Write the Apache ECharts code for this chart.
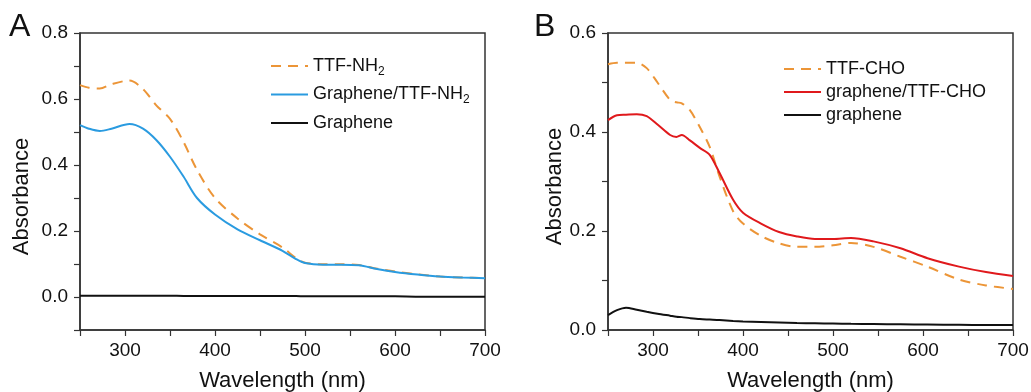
<!DOCTYPE html>
<html><head><meta charset="utf-8">
<script src="https://cdn.jsdelivr.net/npm/echarts@6/dist/echarts.min.js"></script>
<style>html,body{margin:0;padding:0;background:#fff}#c{width:1031px;height:392px}</style>
</head><body><div id="c"></div>
<script>
// Panel A
var wlA = [250,260,272,285,305,320,335,350,365,380,400,425,450,475,490,500,520,540,560,580,600,625,650,675,700];
var ttfNH2 = [0.642,0.634,0.632,0.645,0.656,0.630,0.580,0.540,0.470,0.385,0.300,0.238,0.190,0.150,0.118,0.104,0.099,0.099,0.097,0.086,0.077,0.069,0.062,0.059,0.057];
var grTTFNH2 = [0.521,0.510,0.503,0.510,0.524,0.510,0.475,0.425,0.365,0.300,0.250,0.205,0.172,0.140,0.115,0.103,0.098,0.098,0.096,0.085,0.076,0.068,0.062,0.059,0.057];
var grapheneA = [0.004,0.004,0.004,0.004,0.004,0.004,0.004,0.004,0.003,0.003,0.003,0.003,0.003,0.003,0.003,0.002,0.002,0.002,0.002,0.002,0.002,0.001,0.001,0.001,0.001];
// Panel B
var wlB = [250,260,270,282,293,305,319,326,332,341,352,363,374,389,400,420,440,460,480,500,520,545,575,605,640,670,700];
var ttfCHO = [0.537,0.540,0.540,0.540,0.529,0.500,0.465,0.460,0.458,0.444,0.410,0.370,0.310,0.240,0.215,0.190,0.175,0.168,0.168,0.171,0.176,0.168,0.148,0.128,0.102,0.090,0.083];
var grTTFCHO = [0.424,0.434,0.435,0.436,0.432,0.415,0.394,0.390,0.394,0.383,0.368,0.354,0.317,0.263,0.237,0.215,0.198,0.189,0.184,0.184,0.186,0.179,0.165,0.145,0.128,0.117,0.109];
var grapheneB = [0.030,0.040,0.045,0.041,0.037,0.033,0.029,0.027,0.026,0.024,0.022,0.021,0.020,0.018,0.017,0.016,0.015,0.014,0.0135,0.013,0.0125,0.012,0.0115,0.011,0.0105,0.010,0.010];
var xTicks = [300,400,500,600,700];
var yTicksA = [0.0,0.2,0.4,0.6,0.8];
var yTicksB = [0.0,0.2,0.4,0.6];

function pairs(x, y){ return x.map(function(v,i){ return [v, y[i]]; }); }
var FONT = 'Liberation Sans, Arial, sans-serif';
var AX = '#333';
function xAxis(idx){
  return {
    gridIndex: idx, type:'value', min:250, max:700, interval:50,
    axisLine:{onZero:false, lineStyle:{color:AX, width:1.5}},
    axisTick:{show:true, length:6, inside:false, lineStyle:{color:AX, width:1.2}},
    axisLabel:{color:'#111', fontSize:19, fontFamily:FONT, margin:11,
      formatter:function(v){ return xTicks.indexOf(v) >= 0 ? String(v) : ''; }},
    splitLine:{show:false},
    name:'Wavelength (nm)', nameLocation:'middle', nameGap:40,
    nameTextStyle:{color:'#111', fontSize:22, fontFamily:FONT}
  };
}
function yAxis(idx, min, max, ticks, gap, pad){
  return {
    gridIndex: idx, type:'value', min:min, max:max, interval:0.1,
    axisLine:{onZero:false, lineStyle:{color:AX, width:1.5}},
    axisTick:{show:true, length:6, inside:false, lineStyle:{color:AX, width:1.2}},
    axisLabel:{color:'#111', fontSize:19, fontFamily:FONT, margin:12,
      formatter:function(v){
        for (var i=0;i<ticks.length;i++){ if (Math.abs(ticks[i]-v) < 1e-6) return ticks[i].toFixed(1); }
        return '';
      }},
    splitLine:{show:false},
    name:'Absorbance', nameLocation:'middle', nameGap:gap, nameRotate:90,
    nameTextStyle:{color:'#111', fontSize:22, fontFamily:FONT, padding:[0,pad,0,0]}
  };
}
var ORANGE='#EC9537', BLUE='#2A9BE0', RED='#E0191C', BLACK='#111';
function ser(name, xi, data, color, dashed){
  return {
    name:name, type:'line', xAxisIndex:xi, yAxisIndex:xi, data:data,
    showSymbol:false, symbol:'none', smooth:0.3, animation:false,
    lineStyle:{color:color, width:2, type: dashed ? [10,7] : 'solid'},
    itemStyle:{color:color}
  };
}
var rich = {
  n:{fontSize:18, fontFamily:FONT, color:'#111'},
  s:{fontSize:12, fontFamily:FONT, color:'#111', padding:[11,0,0,0]}
};
function fmt(name){
  if (/NH2$/.test(name)) return '{n|' + name.slice(0,-1) + '}{s|2}';
  return '{n|' + name + '}';
}
var chart = echarts.init(document.getElementById('c'), null, {renderer:'canvas'});
chart.setOption({
  animation:false,
  backgroundColor:'#fff',
  grid:[
    {left:80, right:546, top:33, bottom:62, show:true, borderColor:AX, borderWidth:1.5, backgroundColor:'transparent', containLabel:false, outerBoundsMode:'none'},
    {left:608, right:18, top:33, bottom:62, show:true, borderColor:AX, borderWidth:1.5, backgroundColor:'transparent', containLabel:false, outerBoundsMode:'none'}
  ],
  xAxis:[xAxis(0), xAxis(1)],
  yAxis:[yAxis(0,-0.1,0.8,yTicksA,47,30), yAxis(1,0,0.6,yTicksB,42,10)],
  legend:[
    {data:['TTF-NH2','Graphene/TTF-NH2','Graphene'], orient:'vertical', left:265, top:52,
     itemWidth:37, itemHeight:10, itemGap:8, formatter:fmt,
     itemStyle:{opacity:0},
     textStyle:{fontSize:18, fontFamily:FONT, color:'#111', rich:rich}, selectedMode:false},
    {data:['TTF-CHO','graphene/TTF-CHO','graphene'], orient:'vertical', left:778, top:55,
     itemWidth:37, itemHeight:10, itemGap:5, formatter:fmt,
     itemStyle:{opacity:0},
     textStyle:{fontSize:18, fontFamily:FONT, color:'#111', rich:rich}, selectedMode:false}
  ],
  graphic:[
    {type:'text', left:9, top:11, style:{text:'A', fontSize:32, fontFamily:FONT, fill:'#111'}},
    {type:'text', left:534, top:11, style:{text:'B', fontSize:32, fontFamily:FONT, fill:'#111'}}
  ],
  series:[
    ser('Graphene', 0, pairs(wlA, grapheneA), BLACK, false),
    ser('TTF-NH2', 0, pairs(wlA, ttfNH2), ORANGE, true),
    ser('Graphene/TTF-NH2', 0, pairs(wlA, grTTFNH2), BLUE, false),
    ser('graphene', 1, pairs(wlB, grapheneB), BLACK, false),
    ser('TTF-CHO', 1, pairs(wlB, ttfCHO), ORANGE, true),
    ser('graphene/TTF-CHO', 1, pairs(wlB, grTTFCHO), RED, false)
  ]
});
</script></body></html>
